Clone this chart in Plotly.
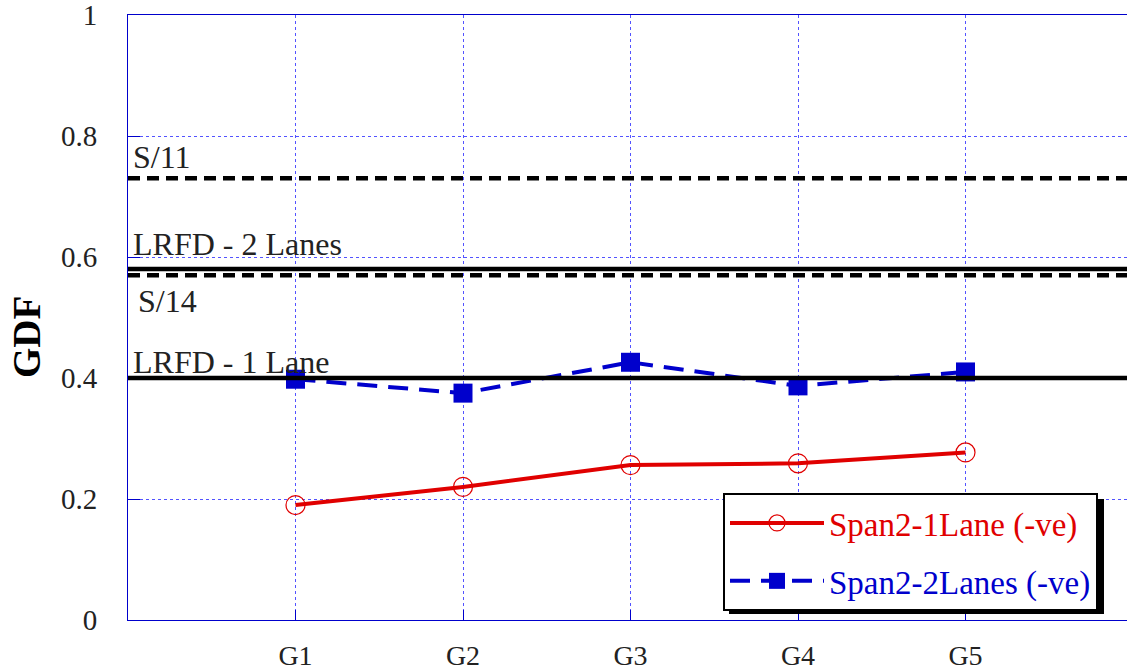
import plotly.graph_objects as go

girders = ["G1", "G2", "G3", "G4", "G5"]
x_pos = [1, 2, 3, 4, 5]
span2_1lane = [0.190, 0.220, 0.256, 0.259, 0.277]
span2_2lanes = [0.398, 0.375, 0.426, 0.387, 0.410]

ref_names = ["S/11", "LRFD - 2 Lanes", "S/14", "LRFD - 1 Lane"]
ref_values = [0.730, 0.580, 0.570, 0.400]
ref_dashed = [True, False, True, False]
ref_label_y = [0.765, 0.622, 0.527, 0.426]
ref_label_x = [0.02, 0.02, 0.05, 0.02]

FONT = "Liberation Serif"
BLUE = "#0000cc"
RED = "#e00000"

W, H = 1127, 670
PL, PT, PB = 128, 15, 620          # plot area in page pixels
PR = W                             # plot reaches the right edge of the figure
UNIT = 167.5                       # pixels per girder step in the reference
X_MAX = (PR - PL) / UNIT


def px_to_paper(px, py):
    return (px - PL) / (PR - PL), (PB - py) / (PB - PT)


fig = go.Figure()

for name, val, dashed in zip(ref_names, ref_values, ref_dashed):
    fig.add_hline(y=val, line=dict(color="black", width=4.5,
                                   dash="12px,7px" if dashed else "solid"),
                  layer="above")

fig.add_trace(go.Scatter(
    x=x_pos, y=span2_1lane, mode="lines+markers",
    name='<span style="color:#e00000">Span2-1Lane (-ve)</span>',
    line=dict(color=RED, width=4),
    marker=dict(symbol="circle-open", size=19, color=RED, line=dict(width=1.2)),
    legendgroup="a",
))
fig.add_trace(go.Scatter(
    x=x_pos, y=span2_2lanes, mode="lines+markers",
    name='<span style="color:#0000cc">Span2-2Lanes (-ve)</span>',
    line=dict(color=BLUE, width=4, dash="20px,11px"),
    marker=dict(symbol="square", size=19, color=BLUE),
    legendgroup="b",
))

for name, lx, ly in zip(ref_names, ref_label_x, ref_label_y):
    fig.add_annotation(x=lx, y=ly, xref="x", yref="y", text=name,
                       showarrow=False, xanchor="left", yanchor="middle",
                       font=dict(family=FONT, size=32, color="#222222"))

# y-axis title
tx, ty = px_to_paper(26, 337)
fig.add_annotation(x=tx, y=ty, xref="paper", yref="paper", text="<b>GDF</b>",
                   showarrow=False, textangle=-90, xanchor="center", yanchor="middle",
                   font=dict(family=FONT, size=39, color="black"))

# legend shadow
sx0, sy1 = px_to_paper(729, 499)
sx1, sy0 = px_to_paper(1104, 614)
fig.add_shape(type="rect", xref="paper", yref="paper",
              x0=sx0, x1=sx1, y0=sy0, y1=sy1,
              fillcolor="black", line=dict(width=0), layer="above")

lx0, ly0 = px_to_paper(723, 493)

fig.update_layout(
    width=W, height=H,
    margin=dict(l=PL, r=W - PR, t=PT, b=H - PB, autoexpand=False),
    paper_bgcolor="white", plot_bgcolor="white",
    font=dict(family=FONT, size=24, color="#222222"),
    showlegend=True,
    legend=dict(x=lx0, y=ly0, xanchor="left", yanchor="top",
                bgcolor="white", bordercolor="black", borderwidth=2,
                font=dict(family=FONT, size=33), tracegroupgap=12,
                traceorder="grouped", itemwidth=94),
    xaxis=dict(range=[0, X_MAX], tickmode="array", tickvals=x_pos, ticktext=girders,
               showline=True, linecolor=BLUE, linewidth=1, mirror=True,
               ticks="inside", ticklen=10, tickcolor=BLUE, automargin=False,
               showgrid=True, gridcolor="rgba(40,40,255,0.8)", griddash="dot", gridwidth=1,
               zeroline=False, ticklabelstandoff=10, ticklabeloverflow="allow",
               tickfont=dict(family=FONT, size=28, color="#222222")),
    yaxis=dict(range=[0, 1], tickmode="array", tickvals=[0, 0.2, 0.4, 0.6, 0.8, 1],
               ticktext=["0", "0.2", "0.4", "0.6", "0.8", "1"],
               showline=True, linecolor=BLUE, linewidth=1, mirror=False,
               ticks="inside", ticklen=12, tickcolor=BLUE, automargin=False,
               showgrid=True, gridcolor="rgba(40,40,255,0.8)", griddash="dot", gridwidth=1,
               zeroline=False, ticklabelstandoff=24, ticklabeloverflow="allow",
               tickfont=dict(family=FONT, size=29, color="#222222")),
)

# remove the default 8px page margin so the figure fills the window exactly
fig.write_html("out.html", config={"displayModeBar": False},
               post_script="document.body.style.margin='0';")
